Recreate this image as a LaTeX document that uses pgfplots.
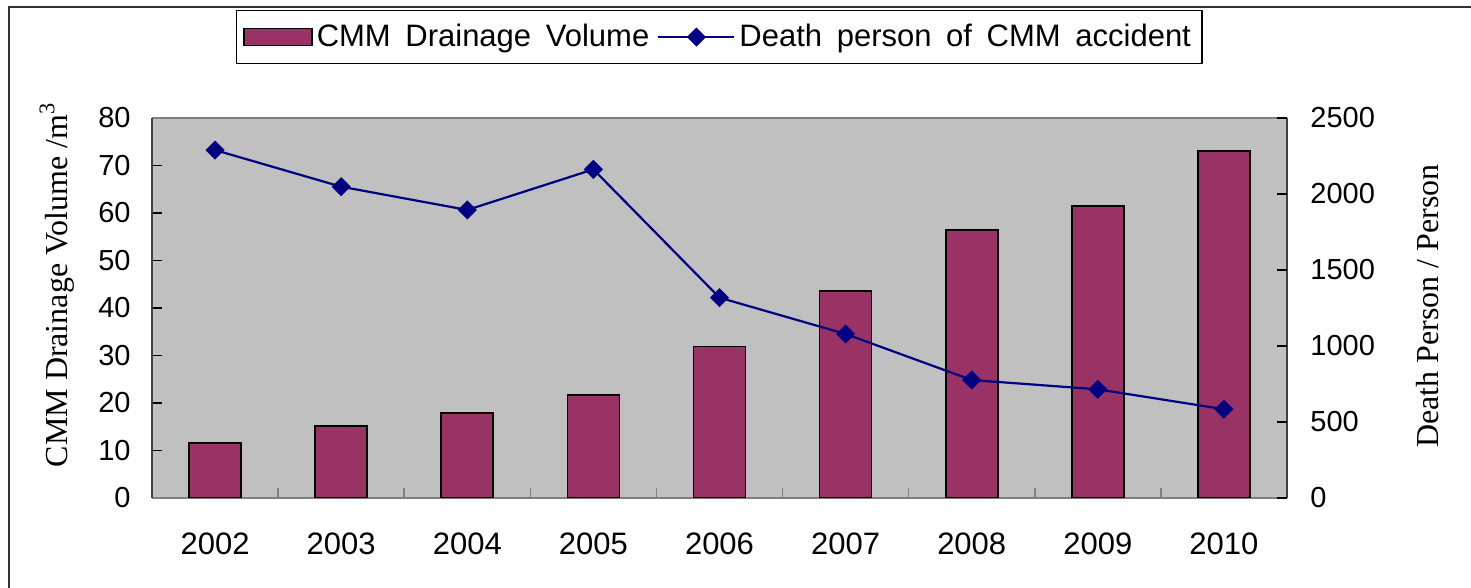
\documentclass[border=0pt]{standalone}
\usepackage{fontspec}
\setmainfont{Liberation Sans}
\newfontfamily\serif{Liberation Serif}
\newfontfamily\legfont[WordSpace=1.7]{Liberation Sans}
\usepackage{pgfplots}
\pgfplotsset{compat=1.18}
\definecolor{barc}{HTML}{993366}
\definecolor{linec}{HTML}{000080}
\definecolor{plotbg}{HTML}{C0C0C0}
\pgfplotsset{
  mybarleg/.style={legend image code/.code={\draw[##1] (0pt,-4.25pt) rectangle (34pt,4.25pt);}},
  mylineleg/.style={legend image code/.code={\draw[mark repeat=2,mark phase=2,##1] plot coordinates {(0pt,0pt)(19pt,0pt)(38pt,0pt)};}},
}
\begin{document}
\begin{tikzpicture}
\useasboundingbox (-76pt,-45pt) rectangle (659.5pt,249pt);
\draw[line width=1pt, black!80] (-71.5pt,-60pt) -- (-71.5pt,245.5pt) -- (680pt,245.5pt);
\begin{axis}[
 at={(0pt,0pt)}, anchor=south west,
 scale only axis, width=567.5pt, height=190pt,
 xmin=-0.5, xmax=8.5, ymin=0, ymax=80,
 axis background/.style={fill=plotbg},
 separate axis lines,
 x axis line style={draw=gray, line width=0.8pt},
 y axis line style={draw=black!75, line width=0.8pt},
 xtick={0,1,2,3,4,5,6,7,8},
 xticklabels={2002,2003,2004,2005,2006,2007,2008,2009,2010},
 xtick pos=bottom,
 major x tick style={draw=none},
 minor xtick={0.5,1.5,2.5,3.5,4.5,5.5,6.5,7.5},
 minor x tick style={draw=gray, line width=0.8pt},
 minor tick length=5pt,
 ytick={0,10,20,30,40,50,60,70,80}, ytick pos=left,
 major tick length=5pt,
 tick align=inside,
 y tick style={black, line width=0.6pt},
 xticklabel style={font=\fontsize{15.5}{17}\selectfont, yshift=-14pt},
 yticklabel style={font=\fontsize{14.5}{16}\selectfont, xshift=-7.2pt},
 /pgf/number format/assume math mode=true,
]
\addplot[ybar, bar width=26pt, bar shift=0pt, fill=barc, draw=black, line width=0.8pt]
 coordinates {(0,11.6) (1,15.2) (2,17.9) (3,21.7) (4,31.9) (5,43.6) (6,56.4) (7,61.5) (8,73.1)};
\end{axis}
\begin{axis}[
 at={(0pt,0pt)}, anchor=south west,
 scale only axis, width=567.5pt, height=190pt,
 xmin=-0.5, xmax=8.5, ymin=0, ymax=2500,
 hide x axis,
 separate axis lines,
 y axis line style={draw=none},
 ytick={0,500,1000,1500,2000,2500}, ytick pos=right,
 major tick length=5pt, tick align=inside,
 y tick style={black, line width=0.6pt},
 yticklabel style={font=\fontsize{14.5}{16}\selectfont, xshift=8.2pt},
 /pgf/number format/assume math mode=true,
 /pgf/number format/1000 sep={},
 legend columns=2,
 legend style={at={(axis description cs:0.4996,1.213)}, anchor=center,
   draw=black, line width=0.6pt, fill=white,
   font=\legfont\fontsize{15.5}{17}\selectfont, inner xsep=3.5pt, inner ysep=5pt,
   /tikz/every even column/.append style={column sep=2pt}},
]
\addlegendimage{fill=barc, draw=black, line width=0.8pt, mybarleg}
\addlegendentry{CMM Drainage Volume}
\addplot[linec, line width=1.1pt, mark=square*, mark size=2.83pt,
  mark options={rotate=45, solid, fill=linec}, mylineleg]
 coordinates {(0,2289) (1,2048) (2,1895) (3,2162) (4,1318) (5,1079) (6,776) (7,715) (8,584)};
\addlegendentry{Death person of CMM accident\hspace{14pt}}
\end{axis}
\node[rotate=90, anchor=base, font=\serif\fontsize{16}{18}\selectfont] at (-42.5pt,106.5pt) {CMM Drainage Volume /m\textsuperscript{3}};
\node[rotate=90, anchor=base, font=\serif\fontsize{16}{18}\selectfont] at (643pt,96pt) {Death Person / Person};
\end{tikzpicture}
\end{document}
